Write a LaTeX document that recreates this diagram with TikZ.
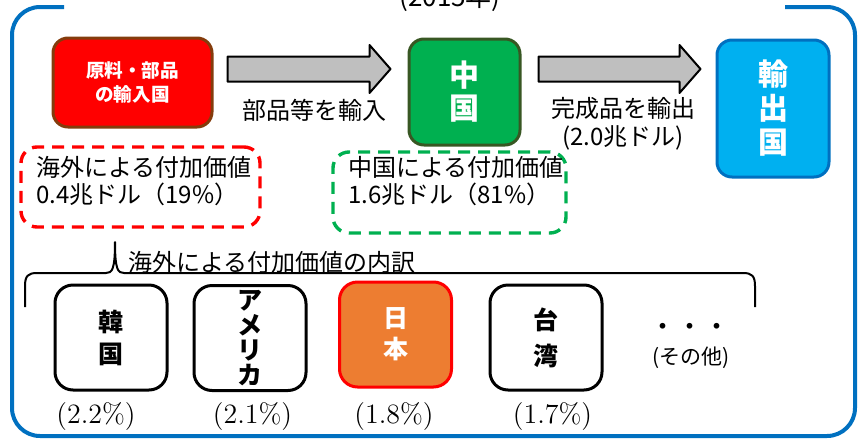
\documentclass[tikz,border=0pt]{standalone}
\usepackage{fontspec}
\newfontfamily\jpfont{Noto Sans CJK JP}
\usetikzlibrary{calc,positioning}
\definecolor{frameblue}{RGB}{0,112,192}
\definecolor{boxred}{RGB}{255,0,0}
\definecolor{boxbrown}{RGB}{132,60,12}
\definecolor{cngreen}{RGB}{0,176,80}
\definecolor{cnborder}{RGB}{56,87,35}
\definecolor{exblue}{RGB}{0,176,240}
\definecolor{arrowgray}{RGB}{191,191,191}
\definecolor{jporange}{RGB}{237,125,49}
\newcommand\jpbf[2]{\jpfont\bfseries\fontsize{#1}{#2}\selectfont}
\newcommand\jpmd[2]{\jpfont\fontsize{#1}{#2}\selectfont}
\newcommand\blockarrow[2]{%
 \draw[blockarrow] ($(#1)+(0,-12.5)$) -- ($(#2)+(-21,-12.5)$) -- ($(#2)+(-21,-24)$)
  -- (#2) -- ($(#2)+(-21,24)$) -- ($(#2)+(-21,12.5)$) -- ($(#1)+(0,12.5)$) -- cycle;}

\begin{document}
\begin{tikzpicture}[x=.5pt,y=-.5pt,line join=round,
  box/.style={rounded corners=7.5pt,line width=1.5pt,align=center,inner sep=0pt,text=white},
  country/.style={box,draw=black,fill=white,text=black,minimum width=56pt,
   minimum height=52.5pt,rounded corners=9pt},
  dashbox/.style={draw,dash pattern=on 6pt off 4pt,line width=1.7pt,rounded corners=8pt,inner sep=0pt},
  lbl/.style={font=\jpmd{12}{14},inner sep=0pt},
  share/.style={font=\fontsize{14}{16}\selectfont,inner sep=0pt},
  blockarrow/.style={draw=black,fill=arrowgray,line width=1pt}]
 \useasboundingbox (0,0) rectangle (858,440);
 % outer frame with a gap for the year
 \draw[frameblue,line width=2pt,rounded corners=14pt]
  (64,7) -- (12,7) -- (12,436) -- (855,436) -- (855,7) -- (785,7);
 \node[font=\jpmd{13}{15},anchor=base] (ttl) at (450,6) {(2015年)};
 % trade flow
 \node[box,draw=boxbrown,fill=boxred,minimum width=79.5pt,minimum height=44.5pt,
  font=\jpbf{9.3}{12}] (src) at (132.5,82.5) {原料・部品\\の輸入国};
 \node[box,draw=cnborder,fill=cngreen,minimum width=55.5pt,minimum height=53pt,
  font=\jpbf{15}{16.5}] (cn) at (464.5,92) {中\\国};
 \node[box,draw=frameblue,fill=exblue,minimum width=56pt,minimum height=68.5pt,
  font=\jpbf{15}{17}] (ex) at (773,108.5) {輸\\出\\国};
 \coordinate (a1s) at ($(src.east)+(14,-13.5)$);
 \coordinate (a1e) at ($(a1s -| cn.west)+(-17,0)$);
 \coordinate (a2s) at ($(a1s -| cn.east)+(17,0)$);
 \coordinate (a2e) at ($(a1s -| ex.west)+(-15,0)$);
 \blockarrow{a1s}{a1e}
 \blockarrow{a2s}{a2e}
 \node[lbl] (imp) at (314,110) {部品等を輸入};
 \node[lbl,align=center] (expt) at (623,124) {完成品を輸出\\(2.0兆ドル)};
 % value added
 \node[dashbox,draw=boxred,minimum width=119.5pt,minimum height=40pt] (ov) at (140.5,187) {};
 \node[lbl,align=left,font=\jpmd{12}{13.5}] (ovtxt) at (144,181.5)
  {海外による付加価値\\0.4兆ドル（19\%）};
 \node[dashbox,draw=cngreen,minimum width=116.5pt,minimum height=40.5pt] (cv) at (449.5,192.5) {};
 \node[lbl,align=left,font=\jpmd{12}{13.5}] (cvtxt) at (456,181.5)
  {中国による付加価値\\1.6兆ドル（81\%）};
 % breakdown
 \draw[line width=1pt] (25,307) -- (25,286) .. controls (25,276) and (28,273) .. (37,273)
  -- (106,273) .. controls (112,273) and (115,270) .. (115,242)
  .. controls (115,270) and (118,273) .. (124,273) -- (743,273)
  .. controls (752,273) and (755,276) .. (755,286) -- (755,307);
 \node[lbl,anchor=west] (brk) at (128,262) {海外による付加価値の内訳};
 \node[country,font=\jpbf{12.5}{16}] (kr) at (111,337.5) {韓\\国};
 \node[country,font=\jpbf{12.5}{12.5}] (us) at (250,338) {ア\\メ\\リ\\カ};
 \node[country,draw=boxred,fill=jporange,text=white,font=\jpbf{12.5}{15.5}] (jp) at (395.5,334.5) {日\\本};
 \node[country,font=\jpbf{12.5}{18}] (tw) at (546,337.5) {台\\湾};
 \node[lbl,font=\jpmd{13.5}{15}] (dots) at (690,330) {・・・};
 \node[lbl,font=\jpmd{10.5}{12}] (oth) at (691,358) {(その他)};
 \node[share] (krp) at (96,417) {(2.2\%)};
 \node[share] (usp) at (252.5,417) {(2.1\%)};
 \node[share] (jpp) at (394,417) {(1.8\%)};
 \node[share] (twp) at (552.5,417) {(1.7\%)};
\end{tikzpicture}
\end{document}
